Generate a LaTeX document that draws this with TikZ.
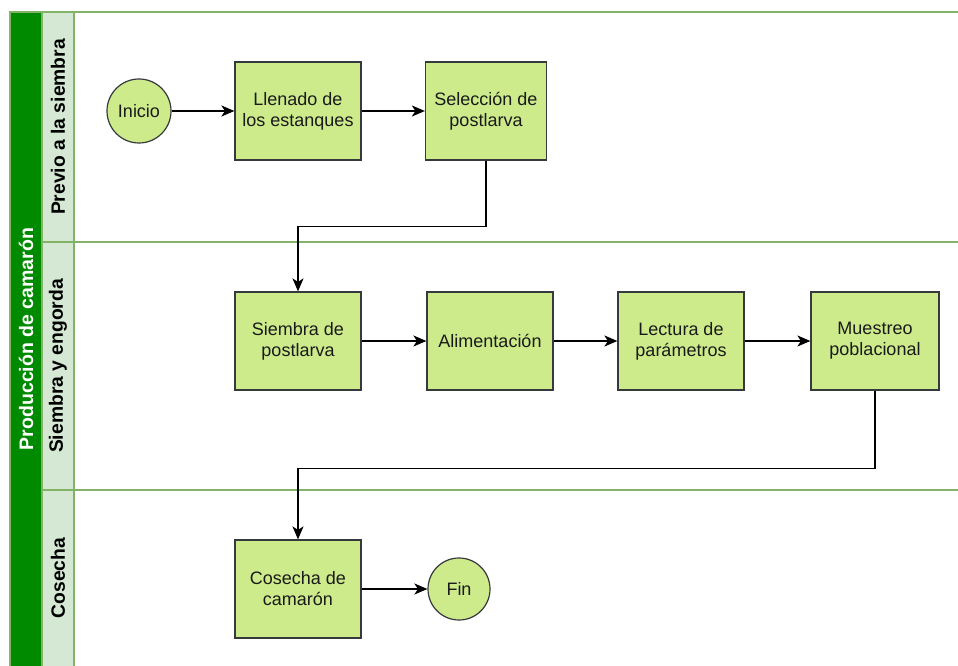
\documentclass[tikz,border=0pt]{standalone}
\usepackage{fontspec}
\setmainfont{Liberation Sans}
\usetikzlibrary{arrows.meta}
\definecolor{poolgreen}{HTML}{008A00}
\definecolor{lanehead}{HTML}{D5E8D4}
\definecolor{laneline}{HTML}{82B366}
\definecolor{boxfill}{HTML}{CDEB8B}
\definecolor{boxline}{HTML}{36393D}
\definecolor{txt}{HTML}{1A1A1A}
\begin{document}
\begin{tikzpicture}[x=1pt,y=-1pt,
  stepbox/.style={rectangle, draw=boxline, line width=1.2pt, fill=boxfill, minimum width=126pt, minimum height=98pt, align=center, text=txt, font=\fontsize{18}{21}\selectfont},
  terminal/.style={circle, draw=boxline, line width=1.2pt, fill=boxfill, minimum size=64pt, inner sep=0pt, text=txt, font=\fontsize{18}{21}\selectfont},
  lanelabel/.style={rotate=90, text=black, font=\bfseries\fontsize{19.3}{22}\selectfont},
  sep/.style={draw=laneline, line width=1.2pt},
  arr/.style={draw=black, line width=1.6pt, -{Stealth[length=13pt,width=11pt,inset=3.5pt]}}
]
\useasboundingbox (0,0) rectangle (958,666);
\fill[white] (0,0) rectangle (958,666);
% pool header and lane headers
\fill[poolgreen] (10,12) rectangle (42,666);
\fill[lanehead] (42,12) rectangle (74,666);
\draw[sep] (10,666) -- (10,12) -- (958,12);
\draw[sep] (42,12) -- (42,666);
\draw[sep] (74,12) -- (74,666);
\draw[sep] (42,242) -- (958,242);
\draw[sep] (42,490) -- (958,490);
% labels
\node[rotate=90, text=white, font=\bfseries\fontsize{19.5}{22}\selectfont] (title) at (26,339) {Producción de camarón};
\node[lanelabel] (lane1) at (58,127) {Previo a la siembra};
\node[lanelabel] (lane2) at (58,366) {Siembra y engorda};
\node[lanelabel] (lane3) at (58,578) {Cosecha};
% nodes
\node[terminal] (ini) at (139,111) {Inicio};
\node[stepbox] (lle) at (298,111) {Llenado de\\los estanques};
\node[stepbox, minimum width=121pt] (sel) at (486,111) {Selección de\\postlarva};
\node[stepbox] (sie) at (298,341) {Siembra de\\postlarva};
\node[stepbox] (ali) at (490,341) {Alimentación};
\node[stepbox] (lec) at (681,341) {Lectura de\\parámetros};
\node[stepbox, minimum width=128pt] (mue) at (875,341) {Muestreo\\poblacional};
\node[stepbox] (cos) at (298,589) {Cosecha de\\camarón};
\node[terminal, minimum size=62pt] (fin) at (459,589) {Fin};
% connectors
\draw[arr] (ini) -- (lle);
\draw[arr] (lle) -- (sel);
\draw[arr] (sel.south) -- ++(0,66) -| (sie.north);
\draw[arr] (sie) -- (ali);
\draw[arr] (ali) -- (lec);
\draw[arr] (lec) -- (mue);
\draw[arr] (mue.south) -- ++(0,78) -| (cos.north);
\draw[arr] (cos) -- (fin);
\end{tikzpicture}
\end{document}
